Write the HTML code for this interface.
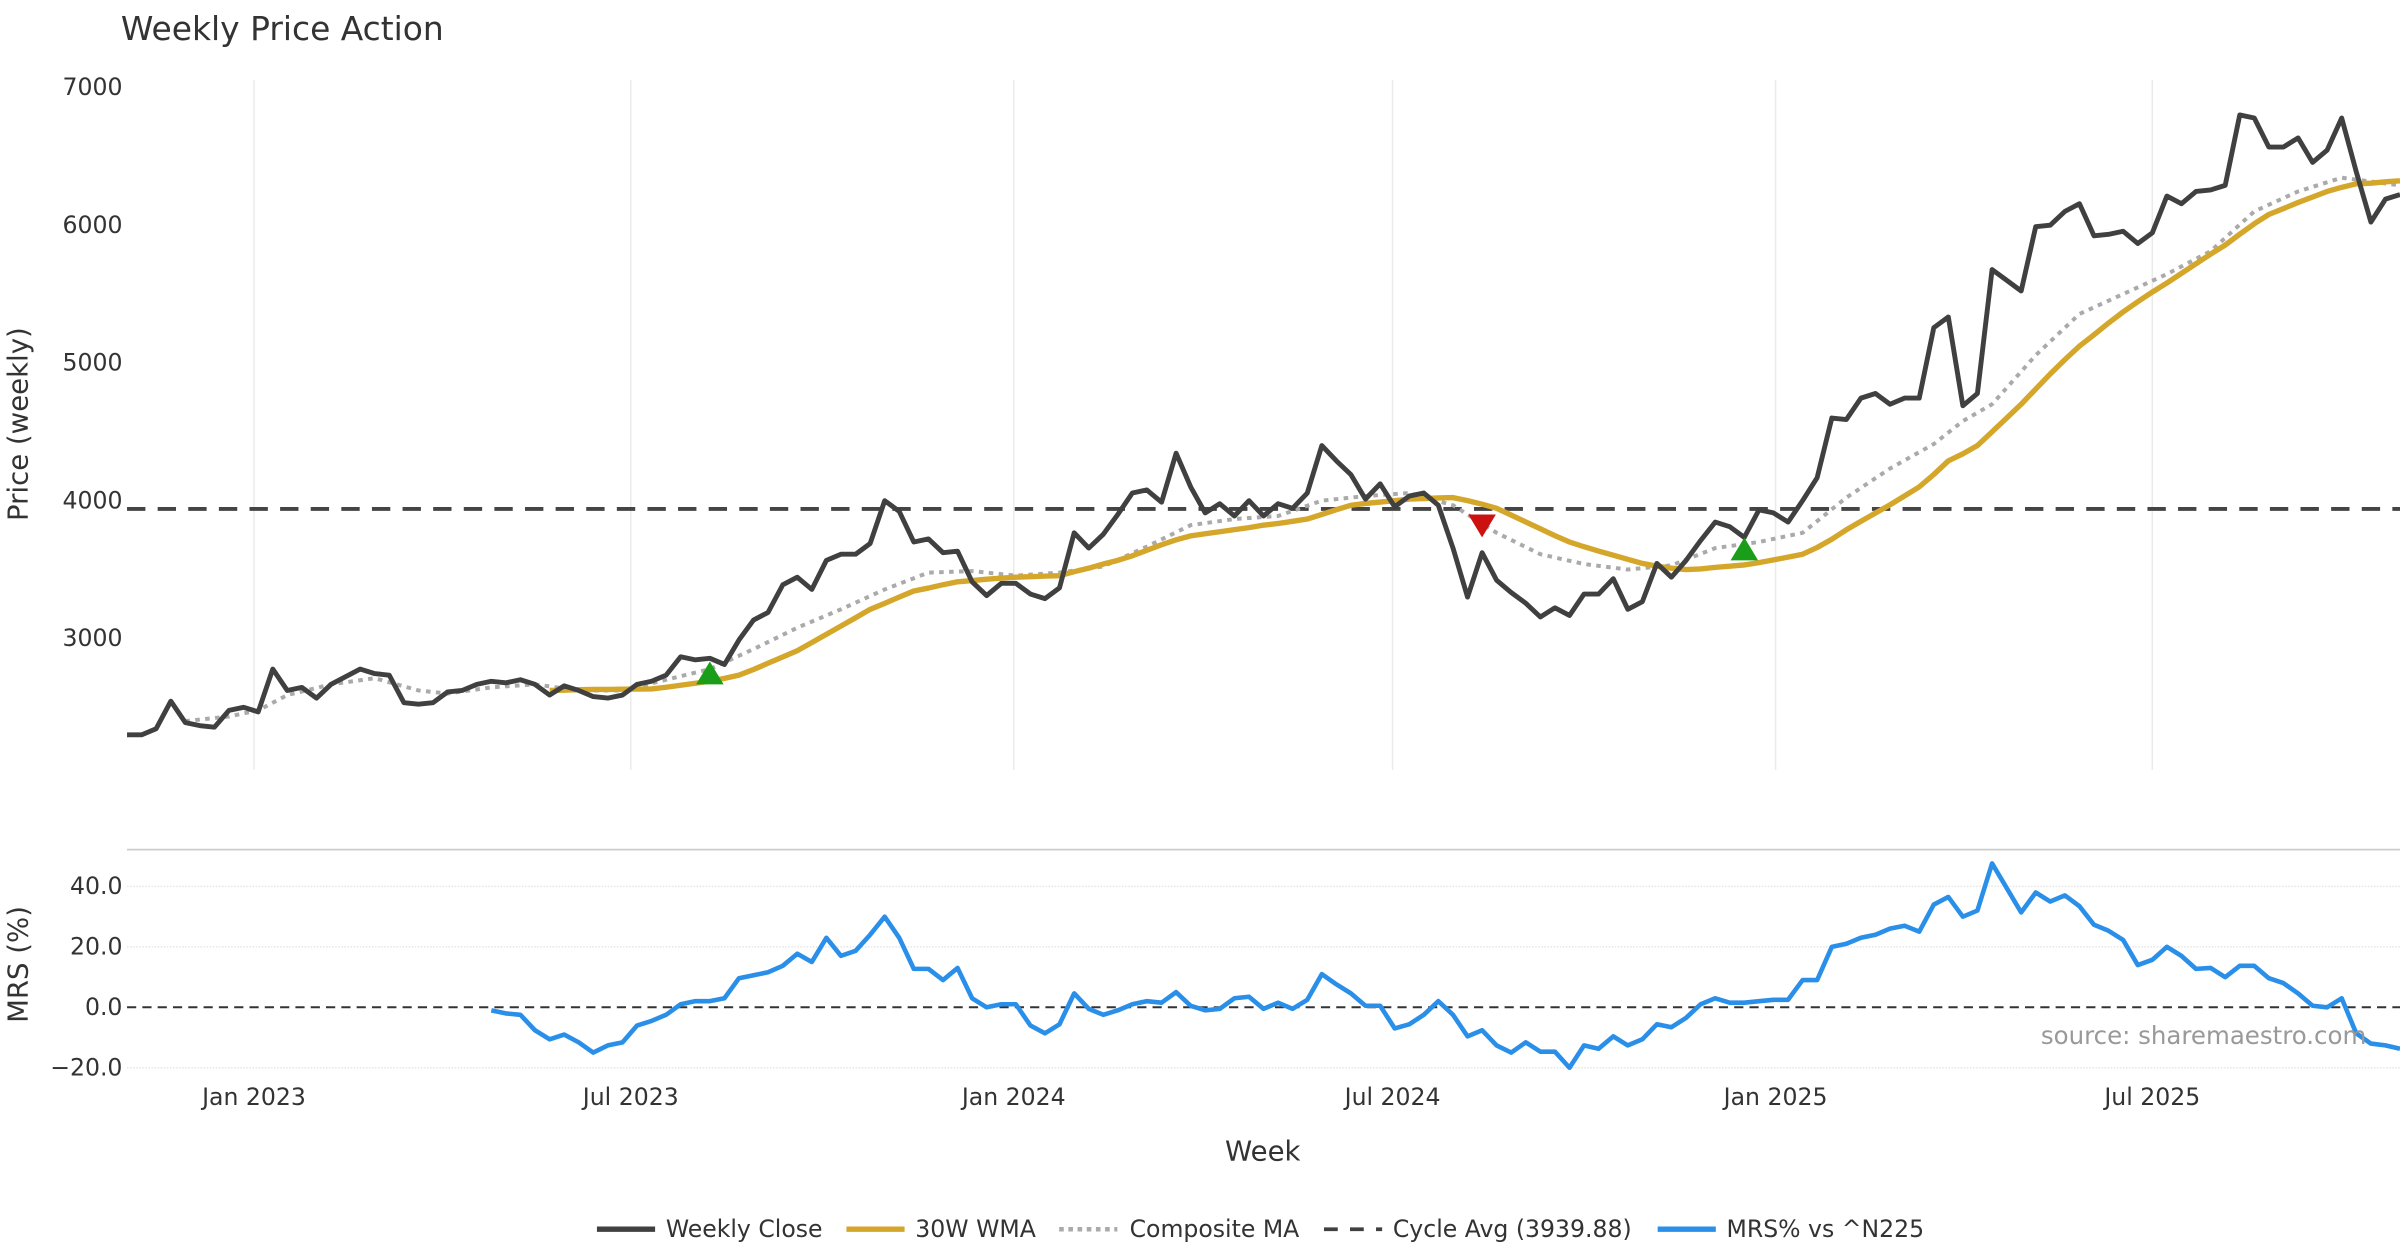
<!DOCTYPE html>
<html><head><meta charset="utf-8"><title>Weekly Price Action</title>
<style>html,body{margin:0;padding:0;background:#fff;}svg{display:block;font-family:"DejaVu Sans","Liberation Sans",sans-serif;}</style>
</head><body>
<svg id="chart" width="2400" height="1260" viewBox="0 0 1568 823" xmlns="http://www.w3.org/2000/svg">
<rect x="0" y="0" width="1568" height="823" fill="#fff"/>
<text x="79" y="26" font-size="21.5" fill="#333">Weekly Price Action</text>
<g id="grid"></g>
<g id="axes"></g>
<g id="series"></g>
<text transform="translate(18,277) rotate(-90)" text-anchor="middle" font-size="18" fill="#333">Price (weekly)</text>
<text transform="translate(18,630) rotate(-90)" text-anchor="middle" font-size="18" fill="#333">MRS (%)</text>
<text x="825" y="758" text-anchor="middle" font-size="18" fill="#333">Week</text>
<text x="1546" y="682" text-anchor="end" font-size="16" fill="#999">source: sharemaestro.com</text>
<g id="legend" font-size="15.4" fill="#333">
 <g><line x1="390" y1="803" x2="428" y2="803" stroke="#404040" stroke-width="3.5"/><text x="435" y="808">Weekly Close</text></g>
 <g><line x1="553" y1="803" x2="591" y2="803" stroke="#d4a62a" stroke-width="3.5"/><text x="598" y="808">30W WMA</text></g>
 <g><line x1="692" y1="803" x2="730" y2="803" stroke="#aaa" stroke-width="3" stroke-dasharray="3,3"/><text x="738" y="808">Composite MA</text></g>
 <g><line x1="865" y1="803" x2="903" y2="803" stroke="#404040" stroke-width="2.5" stroke-dasharray="9,8"/><text x="910" y="808">Cycle Avg (3939.88)</text></g>
 <g><line x1="1083" y1="803" x2="1121" y2="803" stroke="#2a8fe8" stroke-width="3.5"/><text x="1128" y="808">MRS% vs ^N225</text></g>
</g>
</svg>
<script>
const closeVals=[2300,2300,2344,2544,2389,2367,2356,2478,2500,2467,2778,2622,2644,2567,2667,2722,2778,2744,2733,2533,2522,2533,2611,2622,2667,2689,2678,2700,2667,2589,2656,2622,2578,2567,2589,2667,2689,2733,2867,2844,2856,2811,2989,3133,3189,3389,3444,3356,3567,3611,3611,3689,4000,3922,3700,3722,3622,3633,3411,3311,3400,3400,3322,3289,3367,3767,3656,3756,3900,4056,4078,3989,4344,4100,3911,3978,3889,4000,3889,3978,3944,4056,4400,4289,4189,4011,4122,3956,4033,4056,3967,3656,3300,3622,3422,3333,3256,3156,3222,3167,3322,3322,3433,3211,3267,3544,3444,3567,3711,3844,3811,3733,3933,3911,3844,4000,4167,4600,4589,4744,4778,4700,4744,4744,5256,5333,4689,4778,5678,5600,5522,5989,6000,6100,6156,5922,5933,5956,5867,5944,6211,6156,6244,6256,6289,6800,6778,6567,6567,6633,6456,6544,6778,6389,6022,6189,6222];
const wmaStart=29;
const wmaVals=[2622,2625,2628,2630,2630,2631,2632,2633,2645,2660,2675,2690,2710,2733,2775,2820,2865,2911,2970,3030,3090,3150,3211,3255,3300,3344,3365,3390,3411,3420,3430,3438,3444,3448,3452,3456,3485,3510,3540,3567,3600,3640,3680,3715,3744,3760,3775,3790,3805,3822,3835,3850,3867,3900,3935,3967,3980,3990,4000,4011,4015,4020,4022,4000,3975,3944,3895,3845,3795,3745,3700,3665,3635,3605,3575,3544,3525,3510,3500,3505,3515,3525,3533,3550,3570,3590,3611,3660,3720,3789,3850,3910,3970,4035,4100,4190,4289,4340,4400,4500,4600,4700,4810,4920,5025,5122,5205,5290,5370,5444,5515,5580,5650,5720,5790,5856,5935,6010,6078,6120,6165,6205,6244,6275,6300,6305,6315,6322];
const compWeeks=[4,7,9,11,14,17,20,22,25,28,31,34,37,40,43,46,49,52,55,58,61,64,67,70,73,76,79,82,85,88,91,94,97,100,103,106,109,112,115,118,121,124,126,128,131,134,137,140,143,146,149,152,156];
const compVals=[2400,2433,2478,2589,2667,2711,2622,2600,2644,2667,2622,2622,2700,2778,2922,3078,3211,3356,3478,3489,3456,3478,3522,3667,3822,3867,3889,4000,4033,4056,3967,3767,3611,3540,3500,3530,3656,3700,3767,4022,4233,4411,4578,4700,5056,5356,5500,5644,5811,6100,6244,6344,6289];
const mrsStart=25;
const mrsVals=[-1,-2,-2.5,-7.6,-10.6,-9,-11.6,-15,-12.6,-11.6,-6,-4.5,-2.5,1,2,2,3,9.6,10.6,11.6,13.7,17.7,15,23,17,18.7,24,30,23,12.7,12.7,9,13,3,0,1,1,-6,-8.6,-5.6,4.6,-0.5,-2.5,-1,1,2,1.5,5,0.5,-1,-0.5,3,3.5,-0.5,1.5,-0.5,2.5,11,7.6,4.6,0.5,0.5,-7,-5.6,-2.5,2,-2.5,-9.6,-7.6,-12.6,-15,-11.6,-14.7,-14.7,-20,-12.6,-13.7,-9.6,-12.6,-10.6,-5.6,-6.6,-3.5,1,3,1.5,1.5,2,2.5,2.5,9,9,20,21,23,24,26,27,25,34,36.5,30,32,47.6,39.5,31.4,38,35,37,33.4,27.3,25.3,22.3,14,15.7,20,17,12.7,13,10,13.7,13.7,9.6,8,4.6,0.5,0,3,-8.6,-12,-12.6,-13.7];
const cycleAvg=3939.88;
const buySignals=[[40,2744],[111,3644]];
const sellSignals=[[93,3822]];
const priceTicks=[3000,4000,5000,6000,7000];
const mrsTicks=[-20,0,20,40];
const xTickLabels=["Jan 2023","Jul 2023","Jan 2024","Jul 2024","Jan 2025","Jul 2025"];
const xTickDates=["2023-01-01","2023-07-01","2024-01-01","2024-07-01","2025-01-01","2025-07-01"];

const X0=83,X1=1568,N=closeVals.length;
const xs=i=>X0+(X1-X0)*i/(N-1);
const d0=Date.UTC(2022,10,1);
const xd=s=>xs((Date.parse(s)-d0)/(7*864e5));
const yp=v=>417-(v-3000)*0.09;
const ym=v=>658-v*1.975;
const NS="http://www.w3.org/2000/svg";
function mk(tag,attrs,parent){const e=document.createElementNS(NS,tag);for(const k in attrs)e.setAttribute(k,attrs[k]);parent.appendChild(e);return e;}
const grid=document.getElementById('grid'),axes=document.getElementById('axes'),ser=document.getElementById('series');

xTickDates.forEach((d,i)=>{const x=xd(d);
 const g=mk('line',{x1:x,y1:52,x2:x,y2:503,stroke:'#ebebeb','stroke-width':1},grid);
 
 
 const t=mk('text',{x:x,y:722,'text-anchor':'middle','font-size':15.4,fill:'#333'},axes);t.textContent=xTickLabels[i];
 
 
});
priceTicks.forEach(v=>{const t=mk('text',{x:80,y:yp(v)+5,'text-anchor':'end','font-size':15.4,fill:'#333'},axes);t.textContent=v;
 
 
});
const sep=mk('line',{x1:X0,y1:555,x2:X1,y2:555,stroke:'#ccc','stroke-width':1.2},grid);


mrsTicks.forEach(v=>{const y=ym(v);
 if(v!==0){const l=mk('line',{x1:X0,y1:y,x2:X1,y2:y,stroke:'#e6e6e6','stroke-width':1,'stroke-dasharray':'1,1'},grid);
  
  }
 const t=mk('text',{x:80,y:y+5,'text-anchor':'end','font-size':15.4,fill:'#333'},axes);t.textContent=(v<0?'\u2212'+(-v).toFixed(1):v.toFixed(1));
 
 
});
const zl=mk('line',{x1:X0,y1:ym(0),x2:X1,y2:ym(0),stroke:'#333','stroke-width':1.3,'stroke-dasharray':'6,4'},ser);



function path(pts,attrs,name){const d=pts.map((p,i)=>(i?'L':'M')+p[0].toFixed(1)+','+p[1].toFixed(1)).join('');
 const e=mk('path',Object.assign({d:d,fill:'none','stroke-linejoin':'round'},attrs),ser);
 
 return e;}

const ca=mk('line',{x1:X0,y1:yp(cycleAvg),x2:X1,y2:yp(cycleAvg),stroke:'#444','stroke-width':2.5,'stroke-dasharray':'12,8'},ser);


path(compWeeks.map((w,i)=>[xs(w),yp(compVals[i])]),{stroke:'#aaa','stroke-width':2.6,'stroke-dasharray':'3,3.5'},'composite-ma-line');
path(wmaVals.map((v,i)=>[xs(wmaStart+i),yp(v)]),{stroke:'#d4a62a','stroke-width':3.5},'wma-line');
path(closeVals.map((v,i)=>[xs(i),yp(v)]),{stroke:'#404040','stroke-width':3.2},'weekly-close-line');
path(mrsVals.map((v,i)=>[xs(mrsStart+i),ym(v)]),{stroke:'#2a8fe8','stroke-width':3},'mrs-line');

buySignals.forEach(s=>{const x=xs(s[0]),y=yp(s[1]);
 const t=mk('polygon',{points:`${x-9},${y+7} ${x+9},${y+7} ${x},${y-8}`,fill:'#1a9e1a'},ser);
 
 });
sellSignals.forEach(s=>{const x=xs(s[0]),y=yp(s[1]);
 const t=mk('polygon',{points:`${x-9},${y-7} ${x+9},${y-7} ${x},${y+8}`,fill:'#cc1111'},ser);
 
 });
</script>
</body></html>
